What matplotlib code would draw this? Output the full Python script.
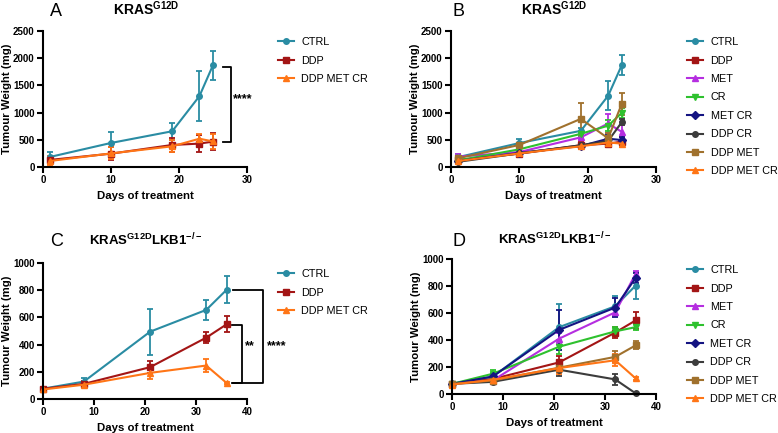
# Tumour weight growth curves, four panels (A-D)

import matplotlib
matplotlib.use("Agg")
import matplotlib.pyplot as plt
from matplotlib.lines import Line2D

plt.rcParams['font.family'] = ['Liberation Sans', 'DejaVu Sans']
plt.rcParams['mathtext.fontset'] = 'custom'
plt.rcParams['mathtext.rm'] = 'Liberation Sans'
plt.rcParams['mathtext.bf'] = 'Liberation Sans:bold'

# Days of measurement

days_g12d = [1, 10, 19, 23, 25]
days_lkb1 = [0, 8, 21, 32, 36]

groups = ['CTRL', 'DDP', 'MET', 'CR', 'MET CR', 'DDP CR', 'DDP MET', 'DDP MET CR']

# Panel A (KRAS G12D, three groups)

a_ctrl = [184, 442, 657, 1302, 1873]
a_ctrl_err = [100, 200, 160, 460, 265]
a_ddp = [130, 245, 405, 430, 467]
a_ddp_err = [80, 120, 130, 150, 160]
a_dmc = [110, 250, 380, 520, 470]
a_dmc_err = [90, 110, 110, 80, 130]

# Panel B (KRAS G12D, all groups)

b_ctrl = [180, 440, 665, 1310, 1875]
b_ctrl_err = [60, 70, 60, 265, 190]
b_ddp = [130, 245, 400, 430, 467]
b_ddp_err = [40, 40, 60, 70, 80]
b_met = [190, 275, 545, 800, 645]
b_met_err = [50, 40, 50, 170, 180]
b_cr = [120, 325, 610, 760, 995]
b_cr_err = [30, 40, 50, 100, 90]
b_metcr = [110, 260, 385, 520, 495]
b_metcr_err = [30, 30, 40, 60, 60]
b_ddpcr = [95, 250, 400, 480, 825]
b_ddpcr_err = [30, 30, 40, 60, 60]
b_ddpmet = [160, 405, 885, 527, 1165]
b_ddpmet_err = [40, 40, 290, 100, 200]
b_dmc = [110, 250, 380, 450, 430]
b_dmc_err = [30, 30, 40, 60, 60]

# Panel C (KRAS G12D LKB1-/-, three groups)

c_ctrl = [76, 128, 495, 655, 803]
c_ctrl_err = [15, 25, 170, 75, 100]
c_ddp = [75, 111, 234, 451, 549]
c_ddp_err = [10, 20, 45, 40, 60]
c_dmc = [70, 105, 192, 246, 118]
c_dmc_err = [10, 20, 45, 45, 10]

# Panel D (KRAS G12D LKB1-/-, all groups)

d_ctrl = [76, 128, 495, 650, 803]
d_ctrl_err = [15, 25, 170, 75, 100]
d_ddp = [75, 111, 234, 455, 545]
d_ddp_err = [10, 20, 45, 40, 60]
d_met = [75, 100, 410, 605, 890]
d_met_err = [10, 15, 40, 30, 20]
d_cr = [75, 150, 350, 464, 495]
d_cr_err = [10, 30, 50, 30, 20]
d_metcr = [75, 130, 475, 640, 860]
d_metcr_err = [10, 20, 150, 70, 40]
d_ddpcr = [75, 90, 180, 108, 5]
d_ddpcr_err = [10, 15, 50, 40, 5]
d_ddpmet = [75, 100, 195, 275, 360]
d_ddpmet_err = [10, 15, 30, 40, 30]
d_dmc = [70, 105, 192, 250, 116]
d_dmc_err = [10, 20, 45, 45, 10]

# Style per group

colors = {'CTRL': '#2a8ca3', 'DDP': '#a31515', 'MET': '#b52ee0', 'CR': '#2ec12e',
          'MET CR': '#141482', 'DDP CR': '#3c3c3c', 'DDP MET': '#a0712d',
          'DDP MET CR': '#ff7516'}
markers = {'CTRL': 'o', 'DDP': 's', 'MET': '^', 'CR': 'v', 'MET CR': 'D',
           'DDP CR': 'o', 'DDP MET': 's', 'DDP MET CR': '^'}

fig = plt.figure(figsize=(7.78, 4.33), dpi=100)
W, H = 778.0, 433.0


def make_axes(l, t, r, b):
    return fig.add_axes([l / W, 1 - b / H, (r - l) / W, (b - t) / H])


def draw_group(ax, x, y, err, name):
    ax.errorbar(x, y, yerr=err, color=colors[name], marker=markers[name],
                markersize=4, lw=1.5, elinewidth=1.3, capsize=2.5, capthick=1.3,
                clip_on=False)


def style(ax, xmax, ymax, ystep):
    ax.set_xlim(0, xmax)
    ax.set_ylim(0, ymax)
    ax.set_xticks(range(0, xmax + 1, 10))
    ax.set_yticks(range(0, ymax + 1, ystep))
    for s in ['top', 'right']:
        ax.spines[s].set_visible(False)
    for s in ['left', 'bottom']:
        ax.spines[s].set_linewidth(1.5)
    ax.tick_params(width=1.5, length=4, labelsize=7, pad=2)
    for lab in ax.get_xticklabels() + ax.get_yticklabels():
        lab.set_fontweight('bold')
    ax.set_xlabel('Days of treatment', fontsize=8.2, fontweight='bold', labelpad=4)
    ax.set_ylabel('Tumour Weight (mg)', fontsize=8.2, fontweight='bold')
    ax.yaxis.set_label_coords(-0.152, 0.5)


def legend(ax, names):
    handles = [Line2D([], [], color=colors[n], marker=markers[n], markersize=4, lw=1.5)
               for n in names]
    ax.legend(handles, names, loc='upper left', bbox_to_anchor=(1.15, 0.955),
              frameon=False, fontsize=7.8, handlelength=1.5, handletextpad=0.7,
              labelspacing=0.78, borderaxespad=0, borderpad=0)


def bracket(ax, x_tick, x_bar, y_top, y_bot):
    ax.plot([x_tick, x_bar, x_bar, x_tick], [y_top, y_top, y_bot, y_bot],
            color='black', lw=1.3, clip_on=False)


three = ['CTRL', 'DDP', 'DDP MET CR']

# Panel A

axA = make_axes(43, 31, 247, 167)
draw_group(axA, days_g12d, a_ctrl, a_ctrl_err, 'CTRL')
draw_group(axA, days_g12d, a_ddp, a_ddp_err, 'DDP')
draw_group(axA, days_g12d, a_dmc, a_dmc_err, 'DDP MET CR')
style(axA, 30, 2500, 500)
legend(axA, three)
bracket(axA, 26.4, 27.6, 1830, 467)
axA.text(28.0, 1240, '****', fontsize=9, fontweight='bold', va='center', ha='left')

# Panel B

axB = make_axes(451, 31, 656, 167)
b_series = [b_ctrl, b_ddp, b_met, b_cr, b_metcr, b_ddpcr, b_ddpmet, b_dmc]
b_errs = [b_ctrl_err, b_ddp_err, b_met_err, b_cr_err, b_metcr_err, b_ddpcr_err,
          b_ddpmet_err, b_dmc_err]
for name, y, e in zip(groups, b_series, b_errs):
    draw_group(axB, days_g12d, y, e, name)
style(axB, 30, 2500, 500)
legend(axB, groups)

# Panel C

axC = make_axes(43, 263, 247, 399)
draw_group(axC, days_lkb1, c_ctrl, c_ctrl_err, 'CTRL')
draw_group(axC, days_lkb1, c_ddp, c_ddp_err, 'DDP')
draw_group(axC, days_lkb1, c_dmc, c_dmc_err, 'DDP MET CR')
style(axC, 40, 1000, 200)
legend(axC, three)
bracket(axC, 37.3, 43.1, 800, 118)
bracket(axC, 37.1, 39.0, 547, 118)
axC.text(39.6, 385, '**', fontsize=9, fontweight='bold', va='center', ha='left')
axC.text(44.0, 385, '****', fontsize=9, fontweight='bold', va='center', ha='left')

# Panel D

axD = make_axes(452, 259, 656, 394)
d_series = [d_ctrl, d_ddp, d_met, d_cr, d_metcr, d_ddpcr, d_ddpmet, d_dmc]
d_errs = [d_ctrl_err, d_ddp_err, d_met_err, d_cr_err, d_metcr_err, d_ddpcr_err,
          d_ddpmet_err, d_dmc_err]
for name, y, e in zip(groups, d_series, d_errs):
    draw_group(axD, days_lkb1, y, e, name)
style(axD, 40, 1000, 200)
legend(axD, groups)

# Panel letters and titles

title_g12d = r'$\mathbf{KRAS^{G12D}}$'
title_lkb1 = r'$\mathbf{KRAS^{G12D}LKB1^{-/-}}$'
fig.text(50 / W, 1 - 16 / H, 'A', fontsize=13, ha='left', va='baseline')
fig.text(146 / W, 1 - 15 / H, title_g12d, fontsize=10, ha='center', va='baseline')
fig.text(452 / W, 1 - 16 / H, 'B', fontsize=13, ha='left', va='baseline')
fig.text(554 / W, 1 - 15 / H, title_g12d, fontsize=10, ha='center', va='baseline')
fig.text(50 / W, 1 - 246 / H, 'C', fontsize=13, ha='left', va='baseline')
fig.text(146 / W, 1 - 245 / H, title_lkb1, fontsize=9.5, ha='center', va='baseline')
fig.text(453 / W, 1 - 246 / H, 'D', fontsize=13, ha='left', va='baseline')
fig.text(555 / W, 1 - 244 / H, title_lkb1, fontsize=9.5, ha='center', va='baseline')

plt.savefig('out.png', dpi=100)
